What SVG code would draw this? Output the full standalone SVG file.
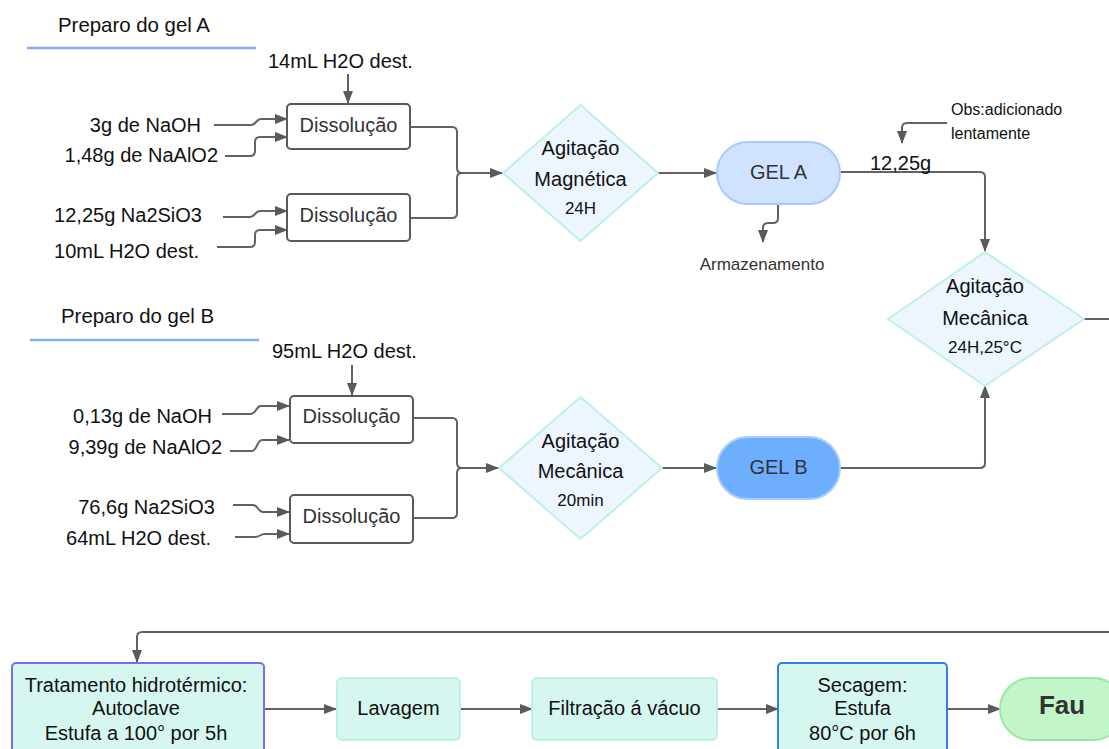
<svg xmlns="http://www.w3.org/2000/svg" width="1109" height="749" viewBox="0 0 1109 749">
<style>
text{font-family:"Liberation Sans",Arial,sans-serif;fill:#111;}
.t20{font-size:20px;}
.t17{font-size:17px;}
.t16{font-size:16px;}
.mid{text-anchor:middle;}
.end{text-anchor:end;}
.box{fill:#fff;stroke:#595959;stroke-width:2;}
.boxt{font-size:20px;fill:#333;text-anchor:middle;}
.dia{fill:#edf5ff;stroke:#bdf0ea;stroke-width:2;}
.proc{fill:#d5f7f0;stroke:#bdefe7;stroke-width:2;}
.sep{stroke:#7ab2f5;stroke-width:2.5;fill:none;}
.c{fill:none;stroke:#626262;stroke-width:2;}
.ca{fill:none;stroke:#626262;stroke-width:2;marker-end:url(#ah);}
</style>
<defs>
<marker id="ah" markerUnits="userSpaceOnUse" markerWidth="13" markerHeight="10" refX="12" refY="5" orient="auto">
<path d="M0,0 L13,5 L0,10 z" fill="#5a5a5a"/>
</marker>
</defs>
<rect width="1109" height="749" fill="#fff"/>

<g id="connectors">
<path class="ca" d="M348,74 V103"/>
<path class="ca" d="M214,125 H251 C256,125 256,119 261,119 H287"/>
<path class="ca" d="M225,156 H250 Q255,156 255,151 V142 Q255,137 260,137 H287"/>
<path class="ca" d="M223,217 H250 C255,217 255,211 260,211 H287"/>
<path class="ca" d="M217,247 H250 Q255,247 255,242 V235 Q255,230 260,230 H287"/>
<path class="c" d="M410,127 H452 Q457,127 457,132 V168 Q457,173 462,173"/>
<path class="ca" d="M410,218 H452 Q457,218 457,213 V178 Q457,173 462,173 H502"/>
<path class="ca" d="M658,173 H716"/>
<path class="ca" d="M778,204 V218 Q778,223 773,223 H768 Q763,223 763,228 V242"/>
<path class="ca" d="M840,172 H980 Q985,172 985,177 V251"/>
<path class="ca" d="M947,123 H907 Q902,123 902,128 V143"/>
<path class="ca" d="M352,365 V395"/>
<path class="ca" d="M222,414 H251 C256,414 256,406 261,406 H289"/>
<path class="ca" d="M230,451 H252 C257,451 257,440 262,440 H289"/>
<path class="ca" d="M233,505 H253 C258,505 258,512 263,512 H289"/>
<path class="ca" d="M235,537 H255 C260,537 260,534 265,534 H289"/>
<path class="c" d="M413,418 H452 Q457,418 457,423 V463 Q457,468 462,468"/>
<path class="ca" d="M413,518 H452 Q457,518 457,513 V473 Q457,468 462,468 H498"/>
<path class="ca" d="M662,468 H716"/>
<path class="ca" d="M840,468 H980 Q985,468 985,463 V386"/>
<path class="c" d="M1084,319 H1110"/>
<path class="ca" d="M1110,632 H142 Q137,632 137,637 V662"/>
<path class="ca" d="M264,709 H336"/>
<path class="ca" d="M460,709 H532"/>
<path class="ca" d="M717,709 H778"/>
<path class="ca" d="M947,709 H1000"/>
</g>

<g id="header-a">
<text x="58" y="32" style="font-size:20.4px">Preparo do gel A</text>
<line class="sep" x1="27" y1="48" x2="256" y2="48"/>
</g>
<g id="header-b">
<text x="61" y="323" style="font-size:20.4px">Preparo do gel B</text>
<line class="sep" x1="30" y1="340" x2="259" y2="340"/>
</g>

<g id="labels-a">
<text class="t20" x="268" y="68">14mL H2O dest.</text>
<text class="t20 end" x="201" y="132">3g de NaOH</text>
<text class="t20 end" x="218" y="162">1,48g de NaAlO2</text>
<text class="t20 end" x="202" y="222">12,25g Na2SiO3</text>
<text class="t20 end" x="199" y="258">10mL H2O dest.</text>
</g>

<g id="dissolucao-a1">
<rect class="box" x="287" y="104" width="123" height="45" rx="4"/>
<text class="boxt" x="348.5" y="132">Dissolução</text>
</g>
<g id="dissolucao-a2">
<rect class="box" x="287" y="194" width="123" height="47" rx="4"/>
<text class="boxt" x="348.5" y="222">Dissolução</text>
</g>

<g id="agitacao-magnetica">
<polygon class="dia" points="580.5,105 658,173 580.5,241 503,173" stroke-linejoin="round"/>
<text class="t20 mid" x="580.5" y="155">Agitação</text>
<text class="t20 mid" x="580.5" y="186">Magnética</text>
<text class="t17 mid" x="580.5" y="214">24H</text>
</g>

<g id="gel-a">
<rect x="717" y="142" width="123" height="62" rx="31" fill="#cfe2ff" stroke="#a9cbf9" stroke-width="2"/>
<text class="t20 mid" x="778.5" y="179" style="fill:#333">GEL A</text>
</g>
<g id="armazenamento">
<text class="t17 mid" x="762" y="270" style="fill:#333">Armazenamento</text>
</g>
<g id="obs">
<text class="t16" x="951" y="115">Obs:adicionado</text>
<text class="t16" x="951" y="139">lentamente</text>
</g>
<text class="t20" x="870" y="170">12,25g</text>

<g id="agitacao-mecanica-2">
<polygon class="dia" points="985,252 1084,319 985,386 888,319" stroke-linejoin="round"/>
<text class="t20 mid" x="985" y="293">Agitação</text>
<text class="t20 mid" x="985" y="325">Mecânica</text>
<text class="t17 mid" x="985" y="353">24H,25°C</text>
</g>

<g id="labels-b">
<text class="t20" x="272" y="358">95mL H2O dest.</text>
<text class="t20 end" x="212" y="423">0,13g de NaOH</text>
<text class="t20 end" x="222" y="454">9,39g de NaAlO2</text>
<text class="t20 end" x="215" y="514">76,6g Na2SiO3</text>
<text class="t20 end" x="211" y="545">64mL H2O dest.</text>
</g>

<g id="dissolucao-b1">
<rect class="box" x="290" y="396" width="123" height="47" rx="4"/>
<text class="boxt" x="351.5" y="423">Dissolução</text>
</g>
<g id="dissolucao-b2">
<rect class="box" x="290" y="495" width="123" height="48" rx="4"/>
<text class="boxt" x="351.5" y="523">Dissolução</text>
</g>

<g id="agitacao-mecanica-b">
<polygon class="dia" points="580.5,397 662,468 580.5,539 499,468" stroke-linejoin="round"/>
<text class="t20 mid" x="580.5" y="448">Agitação</text>
<text class="t20 mid" x="580.5" y="478">Mecânica</text>
<text class="t17 mid" x="580.5" y="506">20min</text>
</g>

<g id="gel-b">
<rect x="717" y="437" width="123" height="62" rx="31" fill="#6daeff" stroke="#a6cdfb" stroke-width="2"/>
<text class="t20 mid" x="778.5" y="474" style="fill:#333">GEL B</text>
</g>

<g id="tratamento">
<rect x="12" y="663" width="252" height="100" rx="4" fill="#d5f7f0" stroke="#7b6cf2" stroke-width="2"/>
<text class="t20 mid" x="136" y="692">Tratamento hidrotérmico:</text>
<text class="t20 mid" x="136" y="715">Autoclave</text>
<text class="t20 mid" x="136" y="740">Estufa a 100° por 5h</text>
</g>
<g id="lavagem">
<rect class="proc" x="337" y="678" width="123" height="62" rx="5"/>
<text class="t20 mid" x="398.5" y="715">Lavagem</text>
</g>
<g id="filtracao">
<rect class="proc" x="532" y="678" width="185" height="62" rx="5"/>
<text class="t20 mid" x="624.5" y="715">Filtração á vácuo</text>
</g>
<g id="secagem">
<rect x="778" y="663" width="169" height="100" rx="4" fill="#d5f7f0" stroke="#2f80ed" stroke-width="2"/>
<text class="t20 mid" x="862.5" y="692">Secagem:</text>
<text class="t20 mid" x="862.5" y="715">Estufa</text>
<text class="t20 mid" x="862.5" y="740">80°C por 6h</text>
</g>
<g id="fau">
<rect x="1000" y="678" width="124" height="62" rx="31" fill="#c2f5c8" stroke="#9ae6a4" stroke-width="2"/>
<text class="mid" x="1062" y="714" style="font-size:26px;font-weight:bold;fill:#333">Fau</text>
</g>
</svg>
